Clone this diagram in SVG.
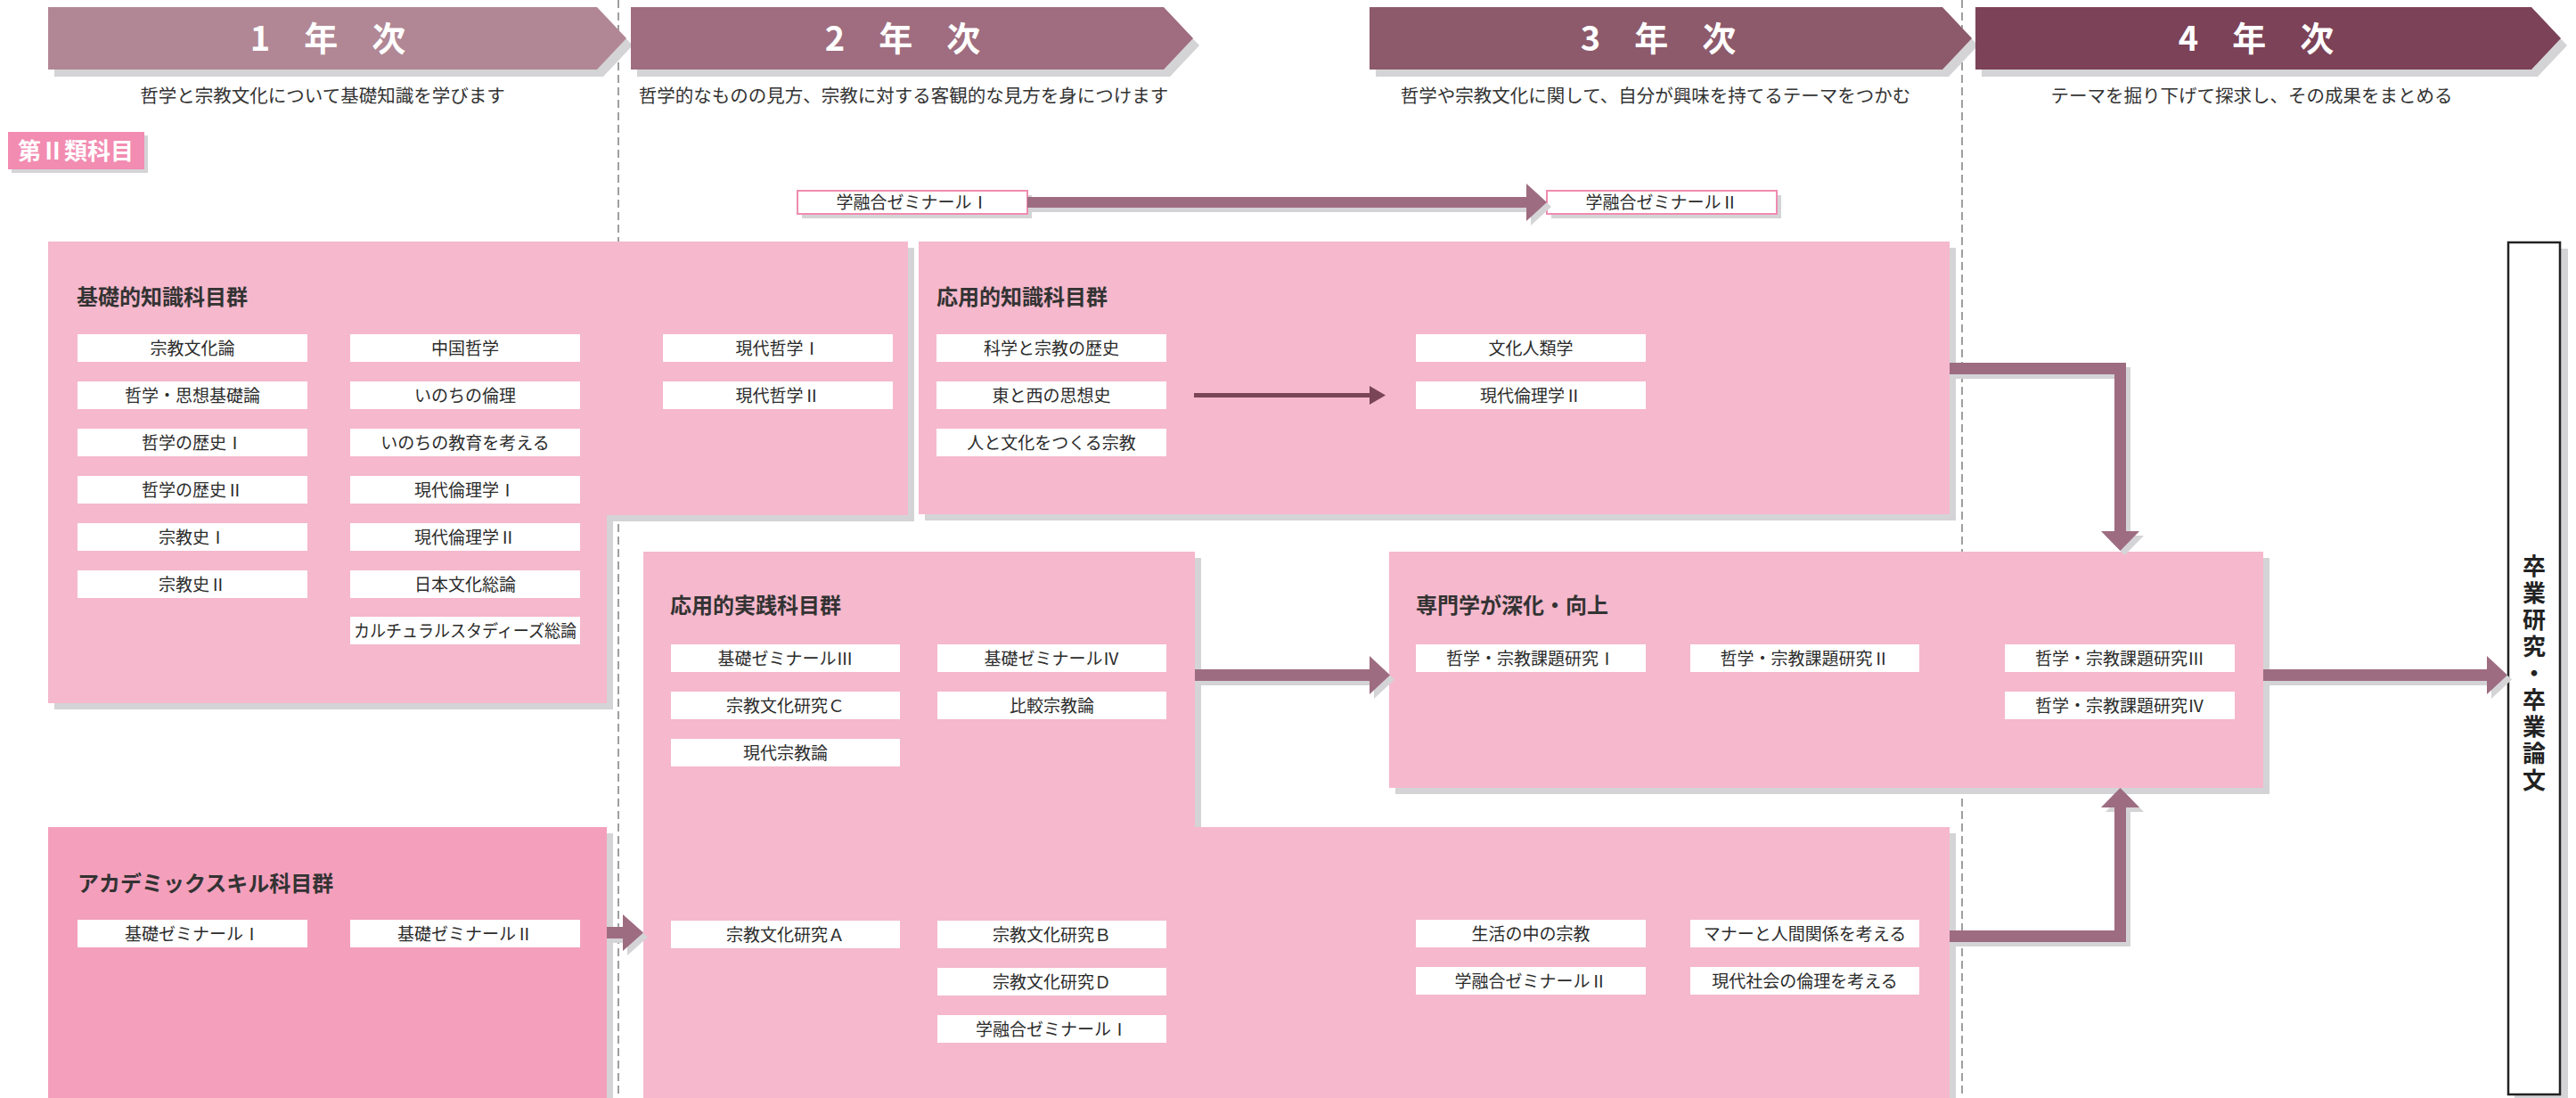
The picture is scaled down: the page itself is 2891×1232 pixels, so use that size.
<svg xmlns="http://www.w3.org/2000/svg" width="2891" height="1232" viewBox="0 0 2891 1232">
<style>
text{font-family:"Noto Sans CJK JP","Noto Sans",sans-serif;}
.ban{font-size:38px;font-weight:700;fill:#fff;text-anchor:middle;}
.sub{font-size:20.5px;fill:#333;text-anchor:middle;}
.ttl{font-size:24px;font-weight:700;fill:#333;}
.it{font-size:19px;fill:#2b2b2b;text-anchor:middle;}
.item{fill:#fff;}
.shd{fill:#d4d4d6;}
.box{fill:#f5b8cc;}
.conn{fill:#9e6c80;}
.dash{stroke:#808080;stroke-width:1.5;stroke-dasharray:9,5;fill:none;}
</style>
<rect width="2891" height="1232" fill="#fff"/>
<g id="year-dividers">
<line class="dash" x1="694" y1="0" x2="694" y2="1232"/>
<line class="dash" x1="2202" y1="0" x2="2202" y2="1232"/>
</g>
<g id="banner-1">
<polygon class="shd" points="61,16 677,16 710,51 677,86 61,86"/>
<polygon fill="#b18795" points="54,8 670,8 703,43 670,78 54,78"/>
<text class="ban" x="368" y="57">1　年　次</text>
<text class="sub" x="362" y="115">哲学と宗教文化について基礎知識を学びます</text>
</g>
<g id="banner-2">
<polygon class="shd" points="715,16 1313,16 1346,51 1313,86 715,86"/>
<polygon fill="#9f6d7f" points="708,8 1306,8 1339,43 1306,78 708,78"/>
<text class="ban" x="1013" y="57">2　年　次</text>
<text class="sub" x="1014" y="115">哲学的なものの見方、宗教に対する客観的な見方を身につけます</text>
</g>
<g id="banner-3">
<polygon class="shd" points="1544,16 2187,16 2220,51 2187,86 1544,86"/>
<polygon fill="#8d5a6b" points="1537,8 2180,8 2213,43 2180,78 1537,78"/>
<text class="ban" x="1861" y="57">3　年　次</text>
<text class="sub" x="1858" y="115">哲学や宗教文化に関して、自分が興味を持てるテーマをつかむ</text>
</g>
<g id="banner-4">
<polygon class="shd" points="2224,16 2848,16 2881,51 2848,86 2224,86"/>
<polygon fill="#7c4257" points="2217,8 2841,8 2874,43 2841,78 2217,78"/>
<text class="ban" x="2532" y="57">4　年　次</text>
<text class="sub" x="2527" y="115">テーマを掘り下げて探求し、その成果をまとめる</text>
</g>
<g id="category-label">
<rect class="shd" x="13" y="152" width="153" height="42"/>
<rect fill="#f28cb1" x="9" y="148" width="153" height="42"/>
<text x="85" y="179" font-size="26" font-weight="700" fill="#fff" text-anchor="middle">第Ⅱ類科目</text>
</g>
<g id="kiso-chishiki">
<path class="shd" d="M61,278 H1026 V585 H688 V796 H61 Z"/>
<path class="box" d="M54,271 H1019 V578 H681 V789 H54 Z"/>
<text class="ttl" x="86" y="342">基礎的知識科目群</text>
<g id="k1"><rect class="item" x="87" y="375" width="258" height="31"/><text class="it" x="216" y="398">宗教文化論</text></g>
<g id="k2"><rect class="item" x="87" y="428" width="258" height="31"/><text class="it" x="216" y="451">哲学・思想基礎論</text></g>
<g id="k3"><rect class="item" x="87" y="481" width="258" height="31"/><text class="it" x="216" y="504">哲学の歴史Ⅰ</text></g>
<g id="k4"><rect class="item" x="87" y="534" width="258" height="31"/><text class="it" x="216" y="557">哲学の歴史Ⅱ</text></g>
<g id="k5"><rect class="item" x="87" y="587" width="258" height="31"/><text class="it" x="216" y="610">宗教史Ⅰ</text></g>
<g id="k6"><rect class="item" x="87" y="640" width="258" height="31"/><text class="it" x="216" y="663">宗教史Ⅱ</text></g>
<g id="k7"><rect class="item" x="393" y="375" width="258" height="31"/><text class="it" x="522" y="398">中国哲学</text></g>
<g id="k8"><rect class="item" x="393" y="428" width="258" height="31"/><text class="it" x="522" y="451">いのちの倫理</text></g>
<g id="k9"><rect class="item" x="393" y="481" width="258" height="31"/><text class="it" x="522" y="504">いのちの教育を考える</text></g>
<g id="k10"><rect class="item" x="393" y="534" width="258" height="31"/><text class="it" x="522" y="557">現代倫理学Ⅰ</text></g>
<g id="k11"><rect class="item" x="393" y="587" width="258" height="31"/><text class="it" x="522" y="610">現代倫理学Ⅱ</text></g>
<g id="k12"><rect class="item" x="393" y="640" width="258" height="31"/><text class="it" x="522" y="663">日本文化総論</text></g>
<g id="k13"><rect class="item" x="393" y="692" width="258" height="31"/><text class="it" x="522" y="715" textLength="250" lengthAdjust="spacingAndGlyphs">カルチュラルスタディーズ総論</text></g>
<g id="k14"><rect class="item" x="744" y="375" width="258" height="31"/><text class="it" x="873" y="398">現代哲学Ⅰ</text></g>
<g id="k15"><rect class="item" x="744" y="428" width="258" height="31"/><text class="it" x="873" y="451">現代哲学Ⅱ</text></g>
</g>
<g id="ouyou-chishiki">
<rect class="shd" x="1038" y="278" width="1157" height="306"/>
<rect class="box" x="1031" y="271" width="1157" height="306"/>
<text class="ttl" x="1051" y="342">応用的知識科目群</text>
<g id="o1"><rect class="item" x="1051" y="375" width="258" height="31"/><text class="it" x="1180" y="398">科学と宗教の歴史</text></g>
<g id="o2"><rect class="item" x="1051" y="428" width="258" height="31"/><text class="it" x="1180" y="451">東と西の思想史</text></g>
<g id="o3"><rect class="item" x="1051" y="481" width="258" height="31"/><text class="it" x="1180" y="504">人と文化をつくる宗教</text></g>
<g id="o4"><rect class="item" x="1589" y="375" width="258" height="31"/><text class="it" x="1718" y="398">文化人類学</text></g>
<g id="o5"><rect class="item" x="1589" y="428" width="258" height="31"/><text class="it" x="1718" y="451">現代倫理学Ⅱ</text></g>
</g>
<g id="ouyou-jissen">
<path class="shd" d="M729,626 H1348 V935 H2195 V1240 H729 Z"/>
<path class="box" d="M722,619 H1341 V928 H2188 V1240 H722 Z"/>
<text class="ttl" x="752" y="688">応用的実践科目群</text>
<g id="j1"><rect class="item" x="753" y="723" width="257" height="31"/><text class="it" x="881.5" y="746">基礎ゼミナールⅢ</text></g>
<g id="j2"><rect class="item" x="753" y="776" width="257" height="31"/><text class="it" x="881.5" y="799">宗教文化研究Ｃ</text></g>
<g id="j3"><rect class="item" x="753" y="829" width="257" height="31"/><text class="it" x="881.5" y="852">現代宗教論</text></g>
<g id="j4"><rect class="item" x="1052" y="723" width="257" height="31"/><text class="it" x="1180.5" y="746">基礎ゼミナールⅣ</text></g>
<g id="j5"><rect class="item" x="1052" y="776" width="257" height="31"/><text class="it" x="1180.5" y="799">比較宗教論</text></g>
<g id="j6"><rect class="item" x="753" y="1033" width="257" height="31"/><text class="it" x="881.5" y="1056">宗教文化研究Ａ</text></g>
<g id="j7"><rect class="item" x="1052" y="1033" width="257" height="31"/><text class="it" x="1180.5" y="1056">宗教文化研究Ｂ</text></g>
<g id="j8"><rect class="item" x="1052" y="1086" width="257" height="31"/><text class="it" x="1180.5" y="1109">宗教文化研究Ｄ</text></g>
<g id="j9"><rect class="item" x="1052" y="1139" width="257" height="31"/><text class="it" x="1180.5" y="1162">学融合ゼミナールⅠ</text></g>
<g id="j10"><rect class="item" x="1589" y="1032" width="258" height="31"/><text class="it" x="1718" y="1055">生活の中の宗教</text></g>
<g id="j11"><rect class="item" x="1589" y="1085" width="258" height="31"/><text class="it" x="1718" y="1108">学融合ゼミナールⅡ</text></g>
<g id="j12"><rect class="item" x="1897" y="1032" width="257" height="31"/><text class="it" x="2025.5" y="1055">マナーと人間関係を考える</text></g>
<g id="j13"><rect class="item" x="1897" y="1085" width="257" height="31"/><text class="it" x="2025.5" y="1108">現代社会の倫理を考える</text></g>
</g>
<g id="academic-skill">
<rect class="shd" x="61" y="935" width="627" height="305"/>
<rect fill="#f4a0bc" x="54" y="928" width="627" height="305"/>
<text class="ttl" x="87" y="1000">アカデミックスキル科目群</text>
<g id="a1"><rect class="item" x="87" y="1032" width="258" height="31"/><text class="it" x="216" y="1055">基礎ゼミナールⅠ</text></g>
<g id="a2"><rect class="item" x="393" y="1032" width="258" height="31"/><text class="it" x="522" y="1055">基礎ゼミナールⅡ</text></g>
</g>
<g id="senmon">
<rect class="shd" x="1566" y="626" width="981" height="265"/>
<rect class="box" x="1559" y="619" width="981" height="265"/>
<text class="ttl" x="1589" y="688">専門学が深化・向上</text>
<g id="s1"><rect class="item" x="1589" y="723" width="258" height="31"/><text class="it" x="1718" y="746">哲学・宗教課題研究Ⅰ</text></g>
<g id="s2"><rect class="item" x="1897" y="723" width="257" height="31"/><text class="it" x="2025.5" y="746">哲学・宗教課題研究Ⅱ</text></g>
<g id="s3"><rect class="item" x="2250" y="723" width="258" height="31"/><text class="it" x="2379" y="746">哲学・宗教課題研究Ⅲ</text></g>
<g id="s4"><rect class="item" x="2250" y="776" width="258" height="31"/><text class="it" x="2379" y="799">哲学・宗教課題研究Ⅳ</text></g>
</g>
<g id="gakuyugo-1">
<rect class="shd" x="900" y="219" width="258" height="26"/>
<rect x="895" y="214" width="258" height="26" fill="#fff" stroke="#f08cb0" stroke-width="2"/>
<text class="it" x="1024" y="234" font-size="18.5">学融合ゼミナールⅠ</text>
</g>
<g id="gakuyugo-2">
<rect class="shd" x="1741" y="219" width="258" height="26"/>
<rect x="1736" y="214" width="258" height="26" fill="#fff" stroke="#f08cb0" stroke-width="2"/>
<text class="it" x="1865" y="234" font-size="18.5">学融合ゼミナールⅡ</text>
</g>
<g id="sotsugyo">
<rect class="shd" x="2822" y="279" width="60" height="958"/>
<rect x="2815" y="272" width="58" height="956" fill="#fff" stroke="#222" stroke-width="2.5"/>
<text x="2844" y="757" font-size="26" font-weight="700" fill="#222" text-anchor="middle" writing-mode="vertical-rl" letter-spacing="4">卒業研究・卒業論文</text>
</g>
<g id="connectors">
<g transform="translate(5,5)" class="shd">
<path d="M1153,221 H1713 V206 L1736,227 L1713,248 V233 H1153 Z"/>
<path d="M2188,407 H2386 V596 H2401 L2379.5,618 L2358,596 H2373 V420 H2188 Z"/>
<path d="M681,1040 H699 V1026 L722,1046.5 L699,1067 V1053 H681 Z"/>
<path d="M1341,751 H1537 V736 L1560,757.5 L1537,779 V764 H1341 Z"/>
<path d="M2188,1044 H2373 V906 H2358 L2379.5,884 L2401,906 H2386 V1057 H2188 Z"/>
<path d="M2540,751 H2791 V736 L2814,757.5 L2791,779 V764 H2540 Z"/>
</g>
<path class="conn" d="M1153,221 H1713 V206 L1736,227 L1713,248 V233 H1153 Z"/>
<path class="conn" d="M2188,407 H2386 V596 H2401 L2379.5,618 L2358,596 H2373 V420 H2188 Z"/>
<path class="conn" d="M681,1040 H699 V1026 L722,1046.5 L699,1067 V1053 H681 Z"/>
<path class="conn" d="M1341,751 H1537 V736 L1560,757.5 L1537,779 V764 H1341 Z"/>
<path class="conn" d="M2188,1044 H2373 V906 H2358 L2379.5,884 L2401,906 H2386 V1057 H2188 Z"/>
<path class="conn" d="M2540,751 H2791 V736 L2814,757.5 L2791,779 V764 H2540 Z"/>
<path fill="#7b4558" d="M1340,441 H1537 V433 L1555,443.5 L1537,454 V446 H1340 Z"/>
</g>
</svg>
